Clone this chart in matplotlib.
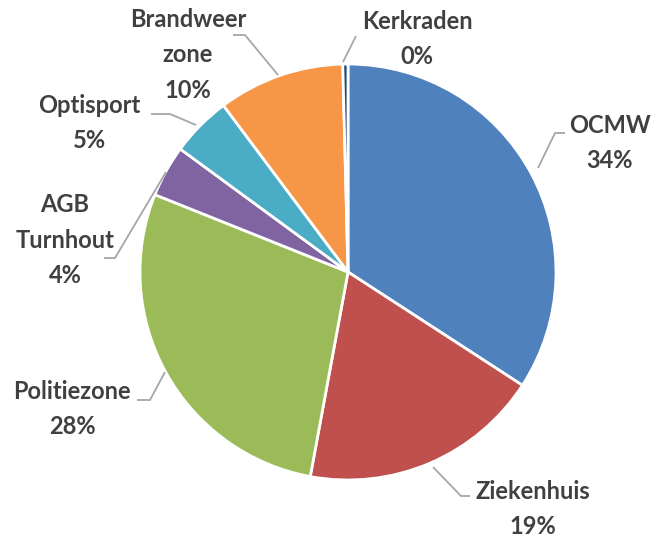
import matplotlib.pyplot as plt

# data
labels = ['OCMW', 'Ziekenhuis', 'Politiezone', 'AGB\nTurnhout', 'Optisport', 'Brandweer\nzone', 'Kerkraden']
values = [34.1, 18.7, 28.1, 4.0, 4.7, 9.8, 0.4]
pct_text = ['34%', '19%', '28%', '4%', '5%', '10%', '0%']
colors = ['#4F81BD', '#C0504D', '#9BBB59', '#8064A2', '#4BACC6', '#F79646', '#1F497D']

W, H = 651, 535
fig = plt.figure(figsize=(W / 100, H / 100), dpi=100)
ax = fig.add_axes([0, 0, 1, 1])

cx, cy, r = 348, 272, 208
# y axis is flipped below, so -90 points up and counterclock runs clockwise on screen
ax.pie(values, colors=colors, startangle=-90, counterclock=True, radius=r,
       center=(cx, cy), wedgeprops=dict(edgecolor='white', linewidth=2))

ax.set_xlim(0, W)
ax.set_ylim(H, 0)
ax.set_aspect('equal')
ax.axis('off')

# label text positions (image px) and leader lines
text_pos = [(610, 143), (533, 509), (72, 409), (65, 240), (89, 123), (188, 55), (417, 39)]
leaders = [
    [(538, 168), (555, 133), (565, 133)],
    [(433, 467), (461, 496), (470, 496)],
    [(165, 372), (150, 400), (137, 400)],
    [(166, 172), (115, 258), (104, 258)],
    [(196, 125), (170, 114), (151, 114)],
    [(278, 75), (245, 35), (233, 35)],
    [(343, 62), (356, 36)],
]

for lab, pct, pos, ln in zip(labels, pct_text, text_pos, leaders):
    xs = [p[0] for p in ln]
    ys = [p[1] for p in ln]
    ax.plot(xs, ys, color='#A6A6A6', lw=1.3, solid_capstyle='butt')
    ax.text(pos[0], pos[1], lab + '\n' + pct, ha='center', va='center',
            fontsize=17, fontweight='bold', color='#404040', family='Lato',
            linespacing=1.65)

fig.savefig('out.png', dpi=100)
